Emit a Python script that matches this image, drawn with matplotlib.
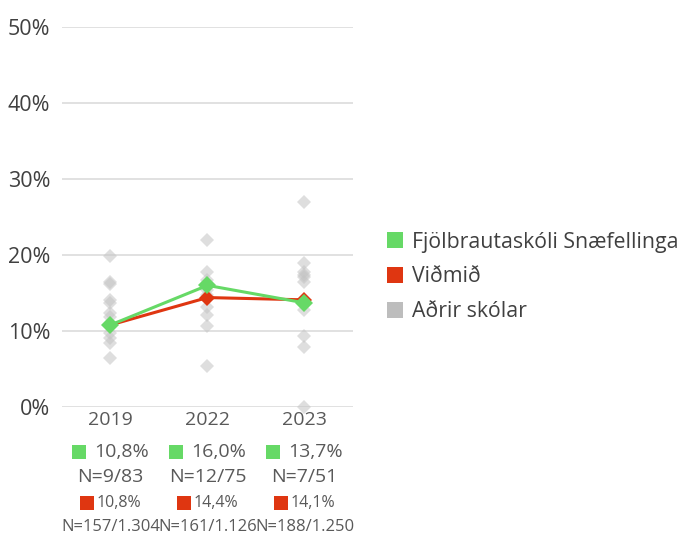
import matplotlib.pyplot as plt
import matplotlib.transforms as mtransforms
from matplotlib.lines import Line2D

plt.rcParams['font.family'] = ['Open Sans', 'DejaVu Sans']

# School results per year and the benchmark
years = ['2019', '2022', '2023']
school = [10.8, 16.0, 13.7]
school_n = ['N=9/83', 'N=12/75', 'N=7/51']
benchmark = [10.8, 14.4, 14.1]
benchmark_n = ['N=157/1.304', 'N=161/1.126', 'N=188/1.250']

# Other schools, one list per year
others_2019 = [19.9, 16.4, 16.2, 14.1, 13.7, 12.4, 11.9, 9.7, 9.1, 8.4, 6.5]
others_2022 = [22.0, 17.8, 16.7, 15.4, 14.8, 13.2, 12.1, 10.7, 5.4]
others_2023 = [27.0, 18.9, 17.8, 17.4, 17.1, 16.5, 12.8, 9.3, 7.9, 0.0]
others = [others_2019, others_2022, others_2023]

green = '#66d966'
red = '#df3611'
grey = '#bdbdbd'
txt = '#595959'

fig = plt.figure(figsize=(6.79, 5.34), dpi=100)
ax = fig.add_axes([62 / 679, 1 - 407 / 534, 291 / 679, 380 / 534])

x = list(range(len(years)))

for i, vals in enumerate(others):
    ax.plot([i] * len(vals), vals, 'D', color='#c4c4c4', alpha=0.55,
            markersize=7, markeredgewidth=0, clip_on=False, zorder=2)

ax.plot(x, benchmark, '-D', color=red, linewidth=2.2, markersize=8.5,
        markeredgewidth=0, zorder=3, clip_on=False)
ax.plot(x, school, '-D', color=green, linewidth=2.2, markersize=9.5,
        markeredgewidth=0, zorder=4, clip_on=False)

ax.set_xlim(-0.5, 2.5)
ax.set_ylim(0, 50)
ax.set_yticks([0, 10, 20, 30, 40, 50])
ax.set_yticklabels([f'{v}%' for v in [0, 10, 20, 30, 40, 50]],
                   fontsize=15.5, color='#404040')
ax.set_xticks(x)
ax.set_xticklabels(years, fontsize=14, color=txt)
ax.tick_params(length=0)
ax.tick_params(axis='y', pad=8.5)
ax.tick_params(axis='x', pad=3)
ax.grid(axis='y', color='#d9d9d9', linewidth=1.1)
ax.set_axisbelow(True)
for s in ax.spines.values():
    s.set_visible(False)

# value rows under each year
xt = ax.get_xaxis_transform()


def shifted(dx_pt):
    return xt + mtransforms.ScaledTranslation(dx_pt / 72, 0, fig.dpi_scale_trans)


for i in x:
    ax.plot([i], [-0.118], 's', color=green, markersize=10.5, markeredgewidth=0,
            transform=shifted(-23), clip_on=False)
    ax.text(i, -0.118, f'{school[i]:.1f}%'.replace('.', ','), transform=shifted(-11.5),
            ha='left', va='center', fontsize=14, color=txt)
    ax.text(i, -0.184, school_n[i], transform=xt, ha='center', va='center',
            fontsize=14, color=txt)
    ax.plot([i], [-0.253], 's', color=red, markersize=10, markeredgewidth=0,
            transform=shifted(-16.6), clip_on=False)
    ax.text(i, -0.253, f'{benchmark[i]:.1f}%'.replace('.', ','), transform=shifted(-10),
            ha='left', va='center', fontsize=11.5, color=txt)
    ax.text(i, -0.316, benchmark_n[i], transform=xt, ha='center', va='center',
            fontsize=12, color=txt)

handles = [Line2D([], [], marker='s', linestyle='none', color=c, markersize=12,
                  markeredgewidth=0) for c in [green, red, grey]]
fig.legend(handles, ['Fjölbrautaskóli Snæfellinga', 'Viðmið', 'Aðrir skólar'],
           loc='center left', bbox_to_anchor=(387 / 679, 1 - 277 / 534),
           frameon=False, fontsize=15.3, labelcolor='#404040', handlelength=0.75,
           handletextpad=0.45, labelspacing=0.65, borderpad=0, borderaxespad=0)

fig.savefig('out.png', dpi=100)
